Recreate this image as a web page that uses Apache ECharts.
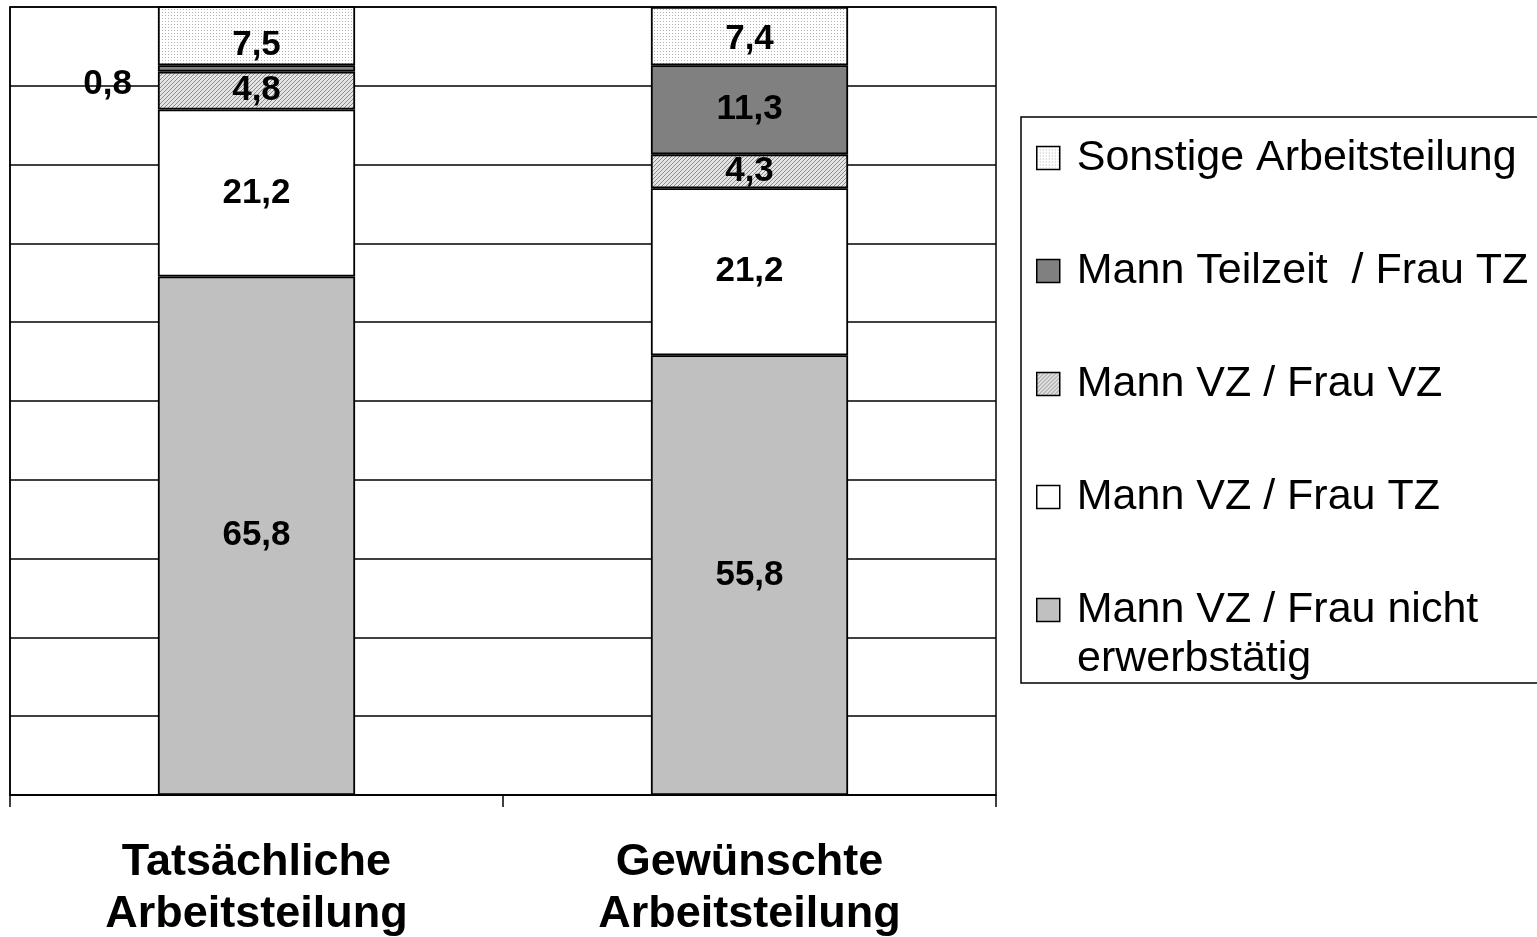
<!DOCTYPE html>
<html>
<head>
<meta charset="utf-8">
<script src="https://cdn.jsdelivr.net/npm/echarts@6/dist/echarts.min.js"></script>
<style>
html,body{margin:0;padding:0;background:#fff;}
#chart{width:1537px;height:937px;}
</style>
</head>
<body>
<div id="chart"></div>
<script>
// ---- data ----
const categories = ['Tatsächliche\nArbeitsteilung', 'Gewünschte\nArbeitsteilung'];
const seriesNames = [
  'Mann VZ / Frau nicht erwerbstätig',
  'Mann VZ / Frau TZ',
  'Mann VZ / Frau VZ',
  'Mann Teilzeit  / Frau TZ',
  'Sonstige Arbeitsteilung'
];
const nichtErwerbstaetig = [65.8, 55.8];
const frauTZ = [21.2, 21.2];
const beideVZ = [4.8, 4.3];
const mannTeilzeit = [0.8, 11.3];
const sonstige = [7.5, 7.4];
const legendOrder = [
  'Sonstige Arbeitsteilung',
  'Mann Teilzeit  / Frau TZ',
  'Mann VZ / Frau VZ',
  'Mann VZ / Frau TZ',
  'Mann VZ / Frau nicht erwerbstätig'
];

// ---- patterns ----
function makeDots() {
  const c = document.createElement('canvas');
  c.width = 3; c.height = 3;
  const g = c.getContext('2d');
  g.fillStyle = '#ffffff'; g.fillRect(0, 0, 3, 3);
  g.fillStyle = '#b4b4b4'; g.fillRect(0, 0, 1, 1);
  return c;
}
function makeHatch() {
  const c = document.createElement('canvas');
  c.width = 4; c.height = 4;
  const g = c.getContext('2d');
  g.fillStyle = '#e4e4e4'; g.fillRect(0, 0, 4, 4);
  g.fillStyle = '#8a8a8a';
  g.fillRect(3, 0, 1, 1); g.fillRect(2, 1, 1, 1); g.fillRect(1, 2, 1, 1); g.fillRect(0, 3, 1, 1);
  return c;
}
const dotPattern = { image: makeDots(), repeat: 'repeat' };
const hatchPattern = { image: makeHatch(), repeat: 'repeat' };

const FONT = '"Liberation Sans", Arial, sans-serif';
const fills = [ '#c0c0c0', '#ffffff', hatchPattern, '#808080', dotPattern ];
const values = [nichtErwerbstaetig, frauTZ, beideVZ, mannTeilzeit, sonstige];

const labelBase = {
  show: true,
  position: 'inside',
  color: '#000',
  fontFamily: FONT,
  fontWeight: 'bold',
  fontSize: 35,
  formatter: p => String(p.value).replace('.', ',')
};

const series = seriesNames.map((name, si) => {
  const data = values[si].map((v, ci) => {
    const item = { value: v };
    if (si === 3 && ci === 0) {
      item.label = { position: 'left', distance: 26, offset: [0, 16] };
    }
    if (si === 4) {
      item.label = { offset: [0, ci === 0 ? 10 : 3] };
    }
    return item;
  });
  return {
    name: name,
    type: 'bar',
    stack: 'total',
    barWidth: '40%',
    clip: true,
    itemStyle: { color: fills[si], borderColor: '#000', borderWidth: 1.8 },
    label: labelBase,
    emphasis: { disabled: true },
    data: data
  };
});

const chart = echarts.init(document.getElementById('chart'), null, { renderer: 'canvas' });
chart.setOption({
  animation: false,
  backgroundColor: '#ffffff',
  grid: {
    left: 10, right: 541, top: 7, bottom: 142,
    containLabel: false,
    outerBoundsMode: 'none',
    show: true, borderColor: '#000', borderWidth: 1.5, backgroundColor: 'transparent'
  },
  legend: {
    orient: 'vertical',
    left: 1036,
    top: 133,
    padding: 0,
    itemGap: 63,
    itemWidth: 23,
    itemHeight: 23,
    icon: 'rect',
    data: legendOrder,
    selectedMode: false,
    formatter: n => n === 'Mann VZ / Frau nicht erwerbstätig' ? 'Mann VZ / Frau nicht' : n,
    textStyle: {
      fontFamily: FONT, fontSize: 43, color: '#000', lineHeight: 50,
      padding: [0, 0, 0, 12]
    },
    itemStyle: { borderColor: '#000', borderWidth: 1.5 }
  },
  graphic: [
    {
      type: 'rect',
      shape: { x: 1021, y: 117, width: 600, height: 566 },
      style: { fill: 'none', stroke: '#000', lineWidth: 1.5 },
      silent: true
    },
    {
      type: 'text',
      x: 1077, y: 659,
      style: {
        text: 'erwerbstätig', font: '43px ' + FONT, fill: '#000',
        verticalAlign: 'middle', align: 'left'
      },
      silent: true
    }
  ],
  xAxis: {
    type: 'category',
    data: categories,
    boundaryGap: true,
    axisLine: { show: true, lineStyle: { color: '#000', width: 1.5 } },
    axisTick: { show: true, length: 12, lineStyle: { color: '#000', width: 1.5 } },
    axisLabel: {
      margin: 42, color: '#000', fontFamily: FONT, fontWeight: 'bold',
      fontSize: 45, lineHeight: 52
    }
  },
  yAxis: {
    type: 'value',
    min: 0, max: 100, interval: 10,
    axisLine: { show: true, lineStyle: { color: '#000', width: 1.5 } },
    axisTick: { show: false },
    axisLabel: { show: false },
    splitLine: { show: true, lineStyle: { color: '#000', width: 1.5 } }
  },
  series: series
});
</script>
</body>
</html>
